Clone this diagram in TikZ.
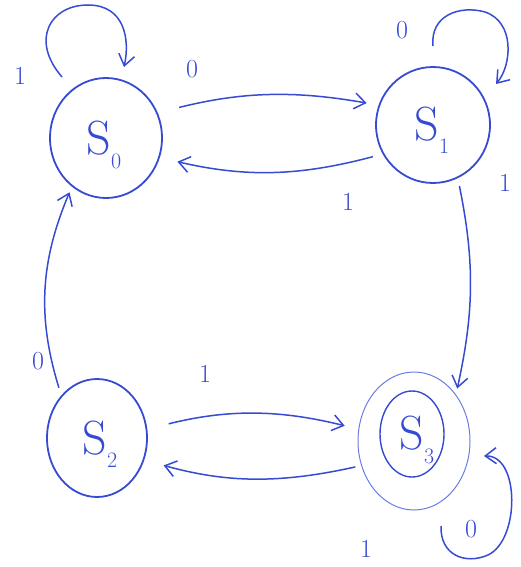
\documentclass[tikz,border=0pt]{standalone}
\usetikzlibrary{arrows.meta,shapes.geometric}
\definecolor{pen}{RGB}{55,75,210}
\definecolor{penlight}{RGB}{105,125,228}
\newcommand{\stname}[1]{S\raisebox{-0.28em}{\fontsize{22}{22}\selectfont #1}}
\begin{document}
\begin{tikzpicture}[x=1pt,y=-1pt,
  statebox/.style={draw=pen,line width=1.8pt,ellipse,inner sep=0pt,text=pen},
  statetext/.style={text=pen,font=\fontsize{48}{50}\selectfont},
  arr/.style={draw=pen,line width=1.5pt,-{Straight Barb[length=11pt,width=16pt,line width=1.5pt]}},
  lbl/.style={text=pen,font=\fontsize{26}{28}\selectfont}]
\useasboundingbox (0,0) rectangle (521,567);
% states
\node[statebox,minimum width=112pt,minimum height=120pt] (s0) at (106,138) {};
\node[statetext] (t0) at (104,145) {\stname{0}};
\node[statebox,minimum width=114pt,minimum height=116pt] (s1) at (433,125) {};
\node[statetext] (t1) at (432,130) {\stname{1}};
\node[statebox,minimum width=100pt,minimum height=118pt] (s2) at (97,438) {};
\node[statetext] (t2) at (100,444) {\stname{2}};
\node[draw=penlight,line width=1pt,ellipse,minimum width=112pt,minimum height=138pt] (s3) at (414,441) {};
\node[draw=pen,line width=1.4pt,ellipse,minimum width=64pt,minimum height=86pt] (s3i) at (412,434) {};
\node[statetext] (t3) at (417,440) {\stname{3}};
% transitions between states
\draw[arr,shorten <=22pt,shorten >=12pt] (s0.26) to[bend left=12] (s1.160);
\draw[arr,shorten <=10pt,shorten >=18pt] (s1.210) to[bend left=14] (s0.340);
\draw[arr,shorten <=8pt,shorten >=6pt] (s1.-65) to[bend left=12] (s3.48);
\draw[arr,shorten <=8pt,shorten >=6pt] (s2.130) to[bend left=20] (s0.235);
\draw[arr,shorten <=22pt,shorten >=14pt] (s2.10) to[bend left=14] (s3.168);
\draw[arr,shorten <=6pt,shorten >=20pt] (s3.205) to[bend left=14] (s2.335);
% self loops
\coordinate (l0a) at (62,77);
\coordinate (l0b) at (124,67);
\draw[arr] (l0a) .. controls (30,40) and (50,5) .. (88,5) .. controls (125,5) and (130,40) .. (l0b);
\coordinate (l1a) at (433,46);
\coordinate (l1b) at (496,84);
\draw[arr] (l1a) .. controls (430,15) and (460,5) .. (485,12) .. controls (515,22) and (512,65) .. (l1b);
\coordinate (l3a) at (441,526);
\coordinate (l3b) at (484,456);
\draw[arr] (l3a) .. controls (440,555) and (465,565) .. (488,555) .. controls (520,540) and (520,455) .. (l3b);
% labels
\node[lbl] (a1) at (20,76) {1};
\node[lbl] (a2) at (192,69) {0};
\node[lbl] (a3) at (348,202) {1};
\node[lbl] (a4) at (402,30) {0};
\node[lbl] (a5) at (505,183) {1};
\node[lbl] (a6) at (38,361) {0};
\node[lbl] (a7) at (205,374) {1};
\node[lbl] (a8) at (366,549) {1};
\node[lbl] (a9) at (471,529) {0};
\end{tikzpicture}
\end{document}
